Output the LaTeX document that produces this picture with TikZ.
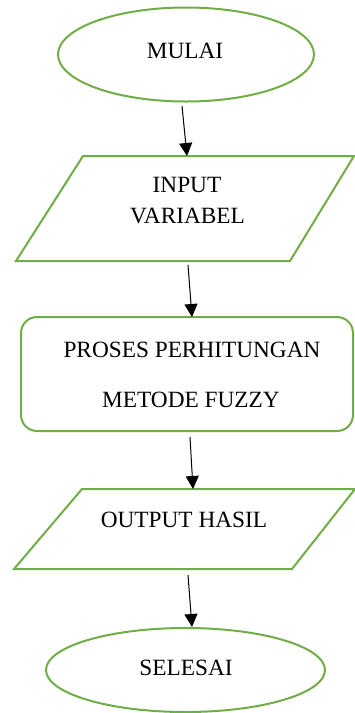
\documentclass[tikz,border=0pt]{standalone}
\usepackage{fontspec}
\setmainfont{Liberation Serif}
\usetikzlibrary{arrows.meta}
\definecolor{flowgreen}{RGB}{112,173,71}
\begin{document}
\begin{tikzpicture}[x=1pt,y=-1pt,
  shapeline/.style={draw=flowgreen,line width=2pt,line join=miter},
  label/.style={inner sep=0pt,font=\fontsize{23.3}{28}\selectfont},
  flowarrow/.style={draw=black,line width=1pt,-{Triangle[length=13pt,width=13pt]}}]
\useasboundingbox (0,0) rectangle (355,713);
\clip (0,0) rectangle (355,713);
% shapes
\draw[shapeline] (186,54.5) ellipse [x radius=128,y radius=47];
\draw[shapeline] (83,156) -- (354,156) -- (290,261) -- (16,261) -- cycle;
\draw[shapeline,rounded corners=16pt] (21,317) rectangle (353,431);
\draw[shapeline] (82,489) -- (355,489) -- (292,569) -- (14,569) -- cycle;
\draw[shapeline] (185.5,670) ellipse [x radius=139.5,y radius=42];
% labels
\node[label] (mulai) at (185,50.5) {MULAI};
\node[label] (input1) at (187,185) {INPUT};
\node[label] (input2) at (187.5,216) {VARIABEL};
\node[label] (proses1) at (192,350) {PROSES PERHITUNGAN};
\node[label] (proses2) at (191,400) {METODE FUZZY};
\node[label] (output) at (184,520) {OUTPUT HASIL};
\node[label] (selesai) at (186,668) {SELESAI};
% connector ends
\coordinate (s1) at (182,106); \coordinate (e1) at (187,156);
\coordinate (s2) at (188,265); \coordinate (e2) at (192,317);
\coordinate (s3) at (190,437); \coordinate (e3) at (193,489);
\coordinate (s4) at (188,575); \coordinate (e4) at (192,627);
\draw[flowarrow] (s1) -- (e1);
\draw[flowarrow] (s2) -- (e2);
\draw[flowarrow] (s3) -- (e3);
\draw[flowarrow] (s4) -- (e4);
\end{tikzpicture}
\end{document}
